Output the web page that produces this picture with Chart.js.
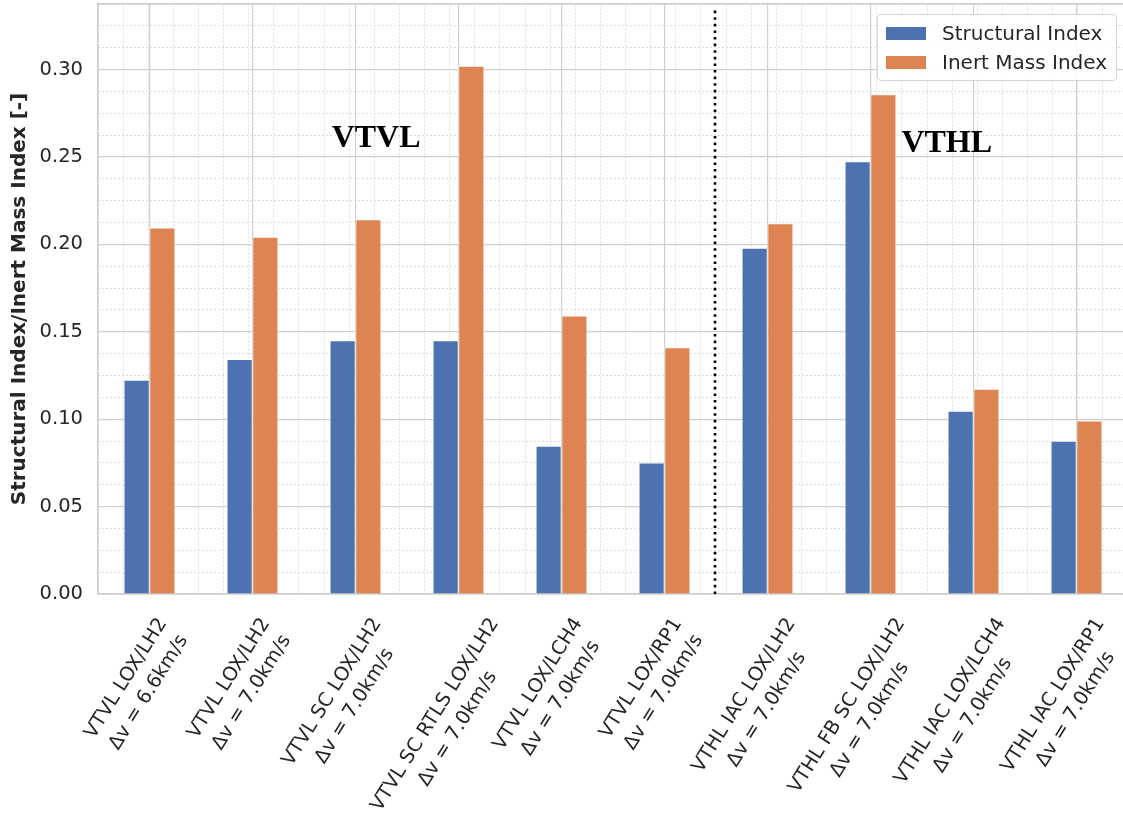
<!DOCTYPE html>
<html>
<head>
<meta charset="utf-8">
<script src="https://cdn.jsdelivr.net/npm/chart.js@4.4.0/dist/chart.umd.min.js"></script>
<style>
    html, body { margin: 0; padding: 0; overflow: hidden; background: #fff; }
    #wrap { position: relative; width: 1123px; height: 825px; overflow: hidden; }
    #legend {
        position: absolute; left: 877px; top: 14px; width: 238px; height: 65px;
        border: 1px solid #d5d5d5; border-radius: 4px; background: rgba(255, 255, 255, 0.9);
        font-family: 'DejaVu Sans'; font-size: 20px; color: #262626;
    }
    #legend .item { position: absolute; left: 8px; height: 24px; line-height: 24px; white-space: nowrap; }
    #legend .sw { display: inline-block; width: 40px; height: 13px; vertical-align: middle; margin-right: 16px; position: relative; top: -1px; }
</style>
</head>
<body>
<div id="wrap">
    <canvas id="chart" width="1130" height="825"></canvas>
    <div id="legend"></div>
</div>
<script>
// categories (two-line tick labels)
var categories = [
    ['VTVL LOX/LH2', 'Δv = 6.6km/s'],
    ['VTVL LOX/LH2', 'Δv = 7.0km/s'],
    ['VTVL SC LOX/LH2', 'Δv = 7.0km/s'],
    ['VTVL SC RTLS LOX/LH2', 'Δv = 7.0km/s'],
    ['VTVL LOX/LCH4', 'Δv = 7.0km/s'],
    ['VTVL LOX/RP1', 'Δv = 7.0km/s'],
    ['VTHL IAC LOX/LH2', 'Δv = 7.0km/s'],
    ['VTHL FB SC LOX/LH2', 'Δv = 7.0km/s'],
    ['VTHL IAC LOX/LCH4', 'Δv = 7.0km/s'],
    ['VTHL IAC LOX/RP1', 'Δv = 7.0km/s']
];
var seriesNames = ['Structural Index', 'Inert Mass Index'];
var structuralIndex = [0.1224, 0.1343, 0.1451, 0.1451, 0.0847, 0.0751, 0.1979, 0.2475, 0.1047, 0.0875];
var inertMassIndex = [0.2096, 0.2042, 0.2143, 0.3020, 0.1592, 0.1411, 0.2119, 0.2857, 0.1173, 0.0992];
var yTitle = 'Structural Index/Inert Mass Index [-]';

// group notes and the divider between VTVL and VTHL
var noteTexts = ['VTVL', 'VTHL'];
var noteX = [1.70, 7.37];
var noteY = [0.2557, 0.2529];
var dividerAt = 5.52;

var colors = ['#4c72b0', '#dd8452'];

Chart.defaults.font.family = 'DejaVu Sans';
Chart.defaults.color = '#262626';

function fixSize(w, h) {
    return function (s) {
        if (w !== null) s.width = w;
        if (h !== null) s.height = h;
        s.paddingTop = 0; s.paddingBottom = 0; s.paddingLeft = 0; s.paddingRight = 0;
    };
}

var xLabels = {
    id: 'xLabels',
    afterDraw: function (chart) {
        var ctx = chart.ctx;
        var xs = chart.scales.x;
        var rot = 58 * Math.PI / 180;
        var gap = 26.5;
        ctx.save();
        ctx.font = '19.5px "DejaVu Sans"';
        ctx.fillStyle = '#262626';
        ctx.textAlign = 'center';
        ctx.textBaseline = 'middle';
        categories.forEach(function (lines, i) {
            var w = Math.max.apply(null, lines.map(function (t) { return ctx.measureText(t).width; }));
            var h = lines.length * gap;
            var bh = w * Math.sin(rot) + h * Math.cos(rot);
            var cx = xs.getPixelForTick(i) - 12;
            var cy = xs.top + 19 + bh / 2;
            ctx.save();
            ctx.translate(cx, cy);
            ctx.rotate(-rot);
            lines.forEach(function (t, k) {
                ctx.fillText(t, 0, (k - (lines.length - 1) / 2) * gap);
            });
            ctx.restore();
        });
        ctx.restore();
    }
};

var notes = {
    id: 'notes',
    afterDraw: function (chart) {
        var ctx = chart.ctx;
        var xs = chart.scales.xMinor;
        var ys = chart.scales.y;
        ctx.save();
        // dotted divider
        ctx.strokeStyle = '#000';
        ctx.lineWidth = 2.6;
        ctx.setLineDash([2.6, 4]);
        var dx = Math.round(xs.getPixelForValue(dividerAt));
        ctx.beginPath();
        ctx.moveTo(dx, ys.getPixelForValue(0));
        ctx.lineTo(dx, ys.getPixelForValue(0.335));
        ctx.stroke();
        ctx.setLineDash([]);
        // group names
        ctx.font = 'bold 32px "Liberation Serif"';
        ctx.fillStyle = '#000';
        ctx.textAlign = 'left';
        ctx.textBaseline = 'alphabetic';
        noteTexts.forEach(function (t, i) {
            ctx.fillText(t, xs.getPixelForValue(noteX[i]), ys.getPixelForValue(noteY[i]));
        });
        ctx.restore();
    }
};

var ctx = document.getElementById('chart').getContext('2d');
var chart = new Chart(ctx, {
    type: 'bar',
    data: {
        labels: categories,
        datasets: [
            { label: seriesNames[0], data: structuralIndex, backgroundColor: colors[0], borderColor: 'rgba(255,255,255,0.8)', borderWidth: 0.8 },
            { label: seriesNames[1], data: inertMassIndex, backgroundColor: colors[1], borderColor: 'rgba(255,255,255,0.8)', borderWidth: 0.8 }
        ]
    },
    options: {
        responsive: false,
        animation: false,
        layout: { padding: { top: 4, right: 2, left: 0, bottom: 0 } },
        datasets: { bar: { categoryPercentage: 0.5, barPercentage: 1 } },
        plugins: { legend: { display: false }, tooltip: { enabled: false } },
        scales: {
            x: {
                type: 'category',
                position: 'bottom',
                offset: true,
                ticks: { display: false },
                grid: { offset: false, color: '#d0d0d0', lineWidth: 1.2, drawTicks: false },
                border: { color: '#cccccc', width: 1.5 },
                afterFit: fixSize(null, 231)
            },
            xMinor: {
                type: 'linear',
                position: 'top',
                min: -0.5,
                max: 9.5,
                ticks: { display: false, stepSize: 0.25 },
                grid: { color: '#dedede', lineWidth: 1, drawTicks: false, z: -2 },
                border: { color: '#cccccc', width: 1.5, dash: [2, 2] },
                afterFit: fixSize(null, 0)
            },
            y: {
                position: 'left',
                min: 0,
                max: 0.3375,
                ticks: {
                    stepSize: 0.05, includeBounds: false, padding: 15,
                    color: '#262626', font: { size: 19.5 },
                    callback: function (v) { return v.toFixed(2); }
                },
                grid: { color: '#d0d0d0', lineWidth: 1.2, drawTicks: false },
                border: { color: '#cccccc', width: 1.5 },
                title: { display: true, text: yTitle, color: '#262626', font: { size: 20, weight: 'bold' }, padding: { top: 8, bottom: 0 } },
                afterFit: fixSize(98, null)
            },
            yMinor: {
                position: 'left',
                min: 0,
                max: 0.3375,
                ticks: { display: false, stepSize: 0.0125, includeBounds: false },
                grid: { color: '#dedede', lineWidth: 1, drawTicks: false, z: -2 },
                border: { display: false, dash: [2, 2] },
                afterFit: fixSize(0, null)
            }
        }
    },
    plugins: [xLabels, notes]
});

// legend box in the top right corner, built from the datasets
var legend = document.getElementById('legend');
chart.data.datasets.forEach(function (ds, i) {
    var item = document.createElement('div');
    item.className = 'item';
    item.style.top = (6 + i * 29) + 'px';
    item.innerHTML = '<span class="sw" style="background:' + ds.backgroundColor + '"></span>' + ds.label;
    legend.appendChild(item);
});
</script>
</body>
</html>
